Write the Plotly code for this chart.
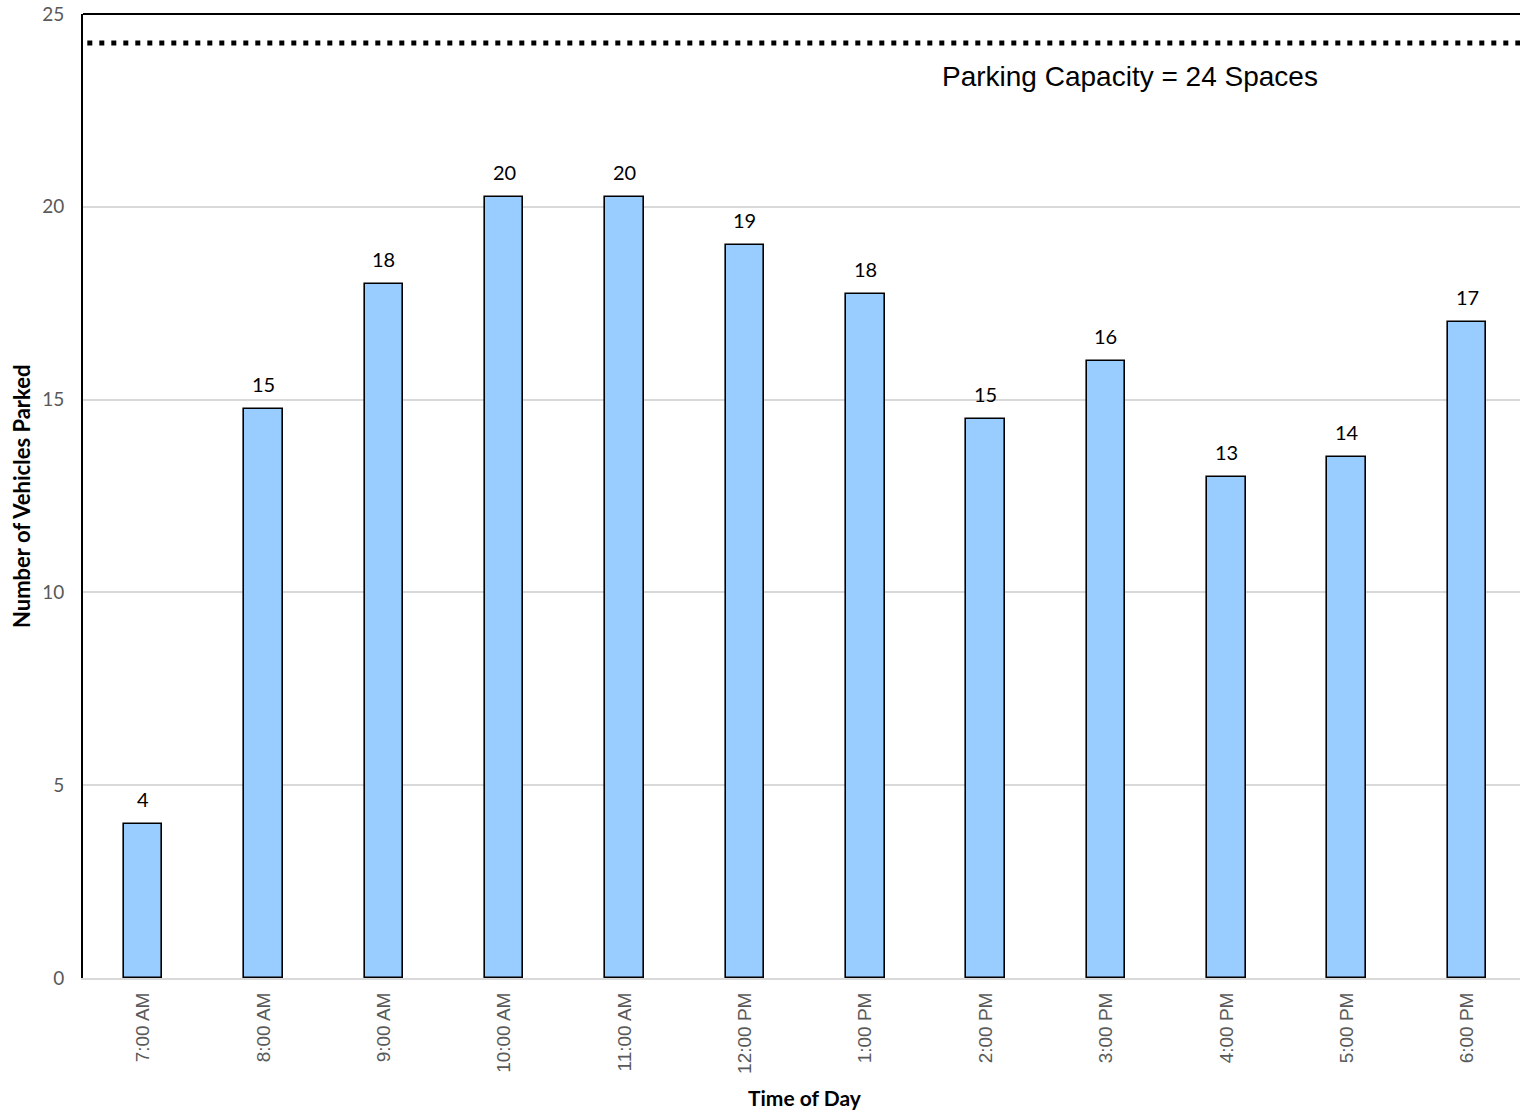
import math
import plotly.graph_objects as go

# Hourly parking occupancy counts
times = ["7:00 AM", "8:00 AM", "9:00 AM", "10:00 AM", "11:00 AM", "12:00 PM",
         "1:00 PM", "2:00 PM", "3:00 PM", "4:00 PM", "5:00 PM", "6:00 PM"]
vehicles = [4.0, 14.75, 18.0, 20.25, 20.25, 19.0, 17.75, 14.5, 16.0, 13.0, 13.5, 17.0]
capacity_line = 24.25
y_ticks = [0, 5, 10, 15, 20, 25]

BAR_FILL = "#99CCFF"
GRID = "#d9d9d9"
TICK_GRAY = "#595959"
BODY_FONT = "Lato, Carlito, sans-serif"
ARIAL = "Liberation Sans, Arial, sans-serif"


def whole(v):
    """Round half up to a whole number of vehicles."""
    return int(math.floor(v + 0.5))


fig = go.Figure()

fig.add_trace(go.Bar(
    x=times,
    y=vehicles,
    width=0.32,
    marker=dict(color=BAR_FILL, line=dict(color="#000000", width=1.6)),
    hoverinfo="x+y",
    showlegend=False,
))

# value labels above each bar
annotations = []
for t, v in zip(times, vehicles):
    annotations.append(dict(
        x=t, y=v, xref="x", yref="y",
        text=str(whole(v)), showarrow=False,
        yanchor="bottom", yshift=11,
        font=dict(family=BODY_FONT, size=20, color="#000000"),
    ))

# capacity label
annotations.append(dict(
    x=(1130 - 83) / 1437, y=capacity_line, xref="paper", yref="y",
    text=f"Parking Capacity = {whole(capacity_line)} Spaces", showarrow=False,
    xanchor="center", yanchor="middle", yshift=-34,
    font=dict(family=ARIAL, size=28, color="#000000"),
))

# axis titles
annotations.append(dict(
    x=0, y=0.499, xref="paper", yref="paper", xanchor="center", yanchor="middle",
    xshift=-61, textangle=-90, showarrow=False,
    text="<b>Number of Vehicles Parked</b>",
    font=dict(family=BODY_FONT, size=22, color="#000000"),
))
annotations.append(dict(
    x=(805 - 83) / 1437, y=0, xref="paper", yref="paper", xanchor="center",
    yanchor="middle", yshift=-119, showarrow=False,
    text="<b>Time of Day</b>",
    font=dict(family=BODY_FONT, size=21, color="#000000"),
))

shapes = [
    # dotted capacity line
    dict(type="line", xref="paper", yref="y", x0=0.003, x1=1,
         y0=capacity_line, y1=capacity_line,
         line=dict(color="#000000", width=5, dash="5px,7px")),
    # top frame line
    dict(type="line", xref="paper", yref="paper", x0=0, x1=1, y0=1, y1=1,
         line=dict(color="#000000", width=2)),
]

fig.update_layout(
    width=1520,
    height=1111,
    margin=dict(l=83, r=0, t=14, b=133, pad=0),
    paper_bgcolor="#ffffff",
    plot_bgcolor="#ffffff",
    annotations=annotations,
    shapes=shapes,
    bargap=0,
    xaxis=dict(
        type="category",
        categoryorder="array",
        categoryarray=times,
        range=[-0.5, 11.44],
        showline=True,
        linecolor=GRID,
        linewidth=2,
        showgrid=False,
        tickangle=-90,
        ticks="outside",
        ticklen=5,
        tickcolor="rgba(0,0,0,0)",
        tickfont=dict(family=ARIAL, size=19, color=TICK_GRAY),
        fixedrange=True,
    ),
    yaxis=dict(
        range=[0, 25],
        tickvals=y_ticks,
        showline=True,
        linecolor="#000000",
        linewidth=2,
        showgrid=True,
        gridcolor=GRID,
        gridwidth=1.5,
        zeroline=False,
        ticks="outside",
        ticklen=13,
        tickcolor="rgba(0,0,0,0)",
        tickfont=dict(family=BODY_FONT, size=19, color=TICK_GRAY),
        fixedrange=True,
    ),
)

fig.write_html("out.html")
